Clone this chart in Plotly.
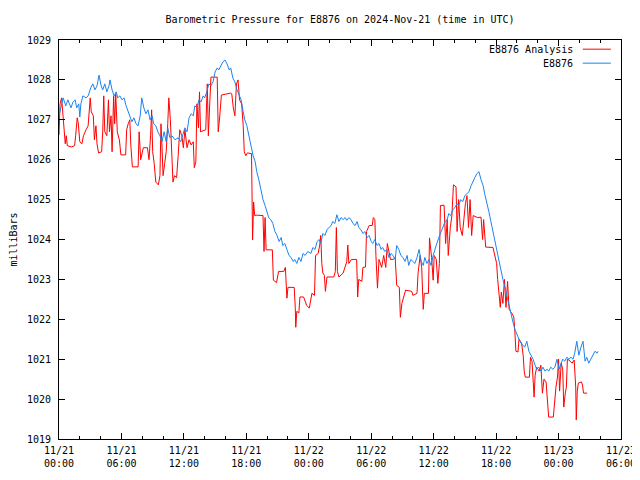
import pandas as pd
import plotly.graph_objects as go

# ---- data (hours after 2024-11-21 00:00 UTC, pressure in mb) ----
blue_hours = [0.0, 0.2, 0.4, 0.65, 0.85, 1.15, 1.35, 1.55, 1.7, 1.9, 2.0, 2.1, 2.3, 2.6, 2.8, 3.05, 3.25, 3.45, 3.65, 3.85,
              4.05, 4.2, 4.4, 4.6, 4.8, 4.9, 5.1, 5.3, 5.5, 5.65, 5.85, 6.05, 6.25, 6.45, 6.6, 6.8, 7.0, 7.2, 7.4, 7.6,
              7.8, 7.95, 8.15, 8.35, 8.55, 8.75, 8.95, 9.1, 9.3, 9.5, 9.7, 9.9, 10.1, 10.3, 10.45, 10.65, 10.85, 11.15, 11.45, 11.7,
              11.9, 12.1, 12.3, 12.5, 12.7, 12.9, 13.05, 13.25, 13.45, 13.65, 13.85, 14.0, 14.2, 14.4, 14.6, 14.8, 15.0, 15.2, 15.35, 15.55,
              15.75, 15.95, 16.15, 16.35, 16.5, 16.7, 16.9, 17.1, 17.3, 17.5, 17.7, 17.85, 18.05, 18.25, 18.45, 18.65, 18.85, 19.0, 19.2, 19.4,
              19.6, 19.8, 20.0, 20.15, 20.35, 20.55, 20.75, 20.95, 21.15, 21.35, 21.5, 21.7, 21.9, 22.1, 22.3, 22.5, 22.65, 22.85, 23.05, 23.25,
              23.45, 23.65, 23.9, 24.2, 24.4, 24.6, 24.8, 25.0, 25.15, 25.35, 25.55, 25.75, 25.95, 26.15, 26.3, 26.5, 26.7, 26.9, 27.1, 27.3,
              27.5, 27.65, 27.85, 28.05, 28.25, 28.45, 28.65, 28.8, 29.0, 29.2, 29.4, 29.6, 29.8, 30.0, 30.15, 30.35, 30.55, 30.75, 30.95, 31.1,
              31.3, 31.5, 31.7, 31.9, 32.1, 32.3, 32.45, 32.65, 32.85, 33.05, 33.25, 33.45, 33.6, 33.8, 34.0, 34.2, 34.4, 34.6, 34.8, 35.0,
              35.15, 35.35, 35.55, 35.75, 35.95, 36.1, 36.3, 36.5, 36.7, 36.9, 37.1, 37.3, 37.45, 37.65, 37.85, 38.05, 38.25, 38.4, 38.6, 38.8,
              39.0, 39.2, 39.4, 39.6, 39.75, 39.95, 40.15, 40.35, 40.55, 40.75, 40.9, 41.1, 41.3, 41.5, 41.7, 41.9, 42.05, 42.25, 42.45, 42.65,
              42.85, 43.05, 43.25, 43.4, 43.6, 43.8, 44.0, 44.2, 44.4, 44.6, 44.75, 44.95, 45.15, 45.35, 45.55, 45.75, 45.9, 46.1, 46.3, 46.5,
              46.7, 46.9, 47.05, 47.25, 47.45, 47.65, 47.85, 48.05, 48.25, 48.4, 48.6, 48.8, 49.0, 49.2, 49.4, 49.55, 49.75, 49.95, 50.15, 50.35,
              50.55, 50.7, 50.9, 51.1, 51.3, 51.5, 51.7, 51.8]
blue_values = [1027.1, 1027.3, 1027.55, 1027.35, 1027.5, 1027.3, 1027.45, 1027.5, 1027.3, 1027.4, 1027.07, 1027.4, 1027.6, 1027.55, 1027.6, 1027.8, 1027.9, 1027.75, 1027.85, 1028.12,
               1027.85, 1027.75, 1027.9, 1027.7, 1027.85, 1028.0, 1027.75, 1027.6, 1027.7, 1027.55, 1027.6, 1027.5, 1027.55, 1027.35, 1027.25, 1027.1, 1026.95, 1027.05, 1026.9, 1026.85,
               1027.1, 1027.55, 1027.3, 1027.15, 1027.25, 1027.0, 1027.1, 1026.9, 1026.85, 1026.7, 1026.6, 1026.45, 1026.7, 1026.45, 1026.8, 1026.55, 1026.6, 1026.5, 1026.55, 1026.45,
               1026.65, 1026.8, 1026.7, 1027.05, 1027.15, 1027.1, 1027.35, 1027.3, 1027.5, 1027.45, 1027.6, 1027.55, 1027.7, 1027.9, 1027.85, 1027.95, 1028.2, 1028.3, 1028.25, 1028.35,
               1028.45, 1028.5, 1028.4, 1028.25, 1028.3, 1028.05, 1027.95, 1027.75, 1027.6, 1027.5, 1027.2, 1027.0, 1026.85, 1026.6, 1026.3, 1026.1, 1025.95, 1025.7, 1025.5, 1025.25,
               1025.0, 1024.85, 1024.7, 1024.55, 1024.5, 1024.4, 1024.2, 1024.1, 1023.95, 1024.05, 1023.85, 1023.9, 1023.75, 1023.6, 1023.55, 1023.45, 1023.5, 1023.4, 1023.55, 1023.45,
               1023.65, 1023.6, 1023.7, 1023.65, 1023.8, 1023.75, 1023.95, 1024.0, 1023.9, 1024.15, 1024.1, 1024.25, 1024.3, 1024.35, 1024.45, 1024.4, 1024.62, 1024.45, 1024.55, 1024.5,
               1024.55, 1024.48, 1024.55, 1024.5, 1024.4, 1024.35, 1024.45, 1024.3, 1024.25, 1024.15, 1024.2, 1024.05, 1024.1, 1023.95, 1023.9, 1024.0, 1023.85, 1023.9, 1023.75, 1023.8,
               1023.7, 1023.75, 1023.55, 1023.65, 1023.6, 1023.5, 1023.85, 1023.75, 1023.6, 1023.55, 1023.45, 1023.6, 1023.35, 1023.5, 1023.45, 1023.4, 1023.55, 1023.75, 1023.45, 1023.35,
               1023.55, 1023.4, 1023.5, 1023.35, 1023.6, 1023.75, 1023.9, 1024.05, 1024.2, 1024.35, 1024.45, 1024.5, 1024.65, 1024.6, 1024.75, 1024.8, 1024.9, 1024.85, 1025.0, 1024.95,
               1025.1, 1025.15, 1025.2, 1025.35, 1025.45, 1025.55, 1025.65, 1025.7, 1025.5, 1025.35, 1025.15, 1024.95, 1024.7, 1024.45, 1024.2, 1023.95, 1023.75, 1023.45, 1023.2, 1023.0,
               1022.8, 1022.55, 1022.35, 1022.15, 1021.95, 1021.75, 1021.6, 1021.5, 1021.4, 1021.35, 1021.3, 1021.45, 1021.2, 1021.1, 1021.0, 1020.85, 1020.75, 1020.8, 1020.7, 1020.8,
               1020.7, 1020.75, 1020.7, 1020.8, 1020.75, 1020.8, 1021.0, 1020.75, 1020.9, 1021.0, 1020.95, 1021.05, 1021.0, 1021.05, 1021.0, 1021.15, 1021.45, 1021.1, 1021.3, 1021.45,
               1020.95, 1021.05, 1020.9, 1021.0, 1021.1, 1021.2, 1021.15, 1021.2]

red_hours = [0.0, 0.1, 0.25, 0.35, 0.45, 0.6, 0.7, 0.8, 1.2, 1.5, 1.6, 1.75, 1.85, 2.0, 2.2, 2.35, 2.6, 2.8, 3.0, 3.1,
             3.3, 3.4, 3.55, 3.65, 3.8, 4.1, 4.2, 4.3, 4.4, 4.6, 4.75, 4.85, 5.0, 5.1, 5.25, 5.35, 5.45, 5.6, 5.8, 5.95,
             6.4, 6.5, 6.65, 6.8, 6.9, 7.05, 7.6, 7.7, 7.85, 8.1, 8.5, 8.65, 8.8, 8.9, 9.0, 9.15, 9.3, 9.55, 9.7, 9.8,
             9.9, 10.0, 10.15, 10.3, 10.45, 10.55, 10.7, 10.8, 10.95, 11.1, 11.3, 11.45, 11.6, 11.8, 11.95, 12.1, 12.3, 12.5, 12.7, 12.9,
             13.0, 13.15, 13.25, 13.4, 13.5, 13.6, 13.8, 14.1, 14.25, 14.35, 14.5, 14.6, 15.2, 15.3, 15.45, 15.6, 16.5, 16.6, 16.75, 16.9,
             17.05, 17.2, 17.35, 17.55, 17.7, 17.8, 17.95, 18.1, 18.5, 18.6, 18.7, 18.8, 19.0, 19.6, 19.7, 19.8, 19.9, 20.5, 20.6, 20.9,
             21.1, 21.6, 21.75, 21.8, 21.9, 22.0, 22.6, 22.7, 22.75, 22.85, 23.05, 23.15, 23.5, 23.8, 24.05, 24.3, 24.55, 24.65, 24.9, 25.05,
             25.15, 25.25, 25.35, 25.5, 25.6, 25.75, 26.4, 26.55, 26.65, 26.75, 26.9, 27.3, 27.5, 27.65, 27.75, 27.85, 28.1, 28.6, 28.7, 28.8,
             29.1, 29.2, 29.45, 29.55, 29.8, 30.1, 30.2, 30.35, 30.45, 30.6, 30.75, 31.0, 31.2, 31.4, 31.55, 31.7, 31.85, 32.1, 32.3, 32.45,
             32.7, 32.8, 32.95, 33.3, 33.9, 34.0, 34.4, 34.5, 34.7, 34.85, 35.0, 35.1, 35.5, 35.6, 35.8, 35.95, 36.05, 36.25, 36.4, 36.55,
             36.65, 37.0, 37.15, 37.3, 37.4, 37.6, 37.75, 37.9, 38.15, 38.25, 38.4, 38.55, 38.75, 38.9, 39.05, 39.2, 39.35, 39.5, 39.65, 39.8,
             40.2, 40.55, 40.7, 40.8, 41.0, 41.7, 41.85, 42.05, 42.15, 42.3, 42.4, 42.5, 42.65, 42.8, 42.95, 43.1, 43.25, 43.5, 43.7, 43.8,
             43.9, 44.1, 44.2, 44.45, 44.6, 44.7, 44.8, 45.2, 45.3, 45.45, 45.55, 45.65, 45.75, 45.9, 46.15, 46.3, 46.45, 46.6, 46.8, 46.95,
             47.05, 47.5, 47.6, 47.75, 47.9, 48.0, 48.1, 48.25, 48.4, 48.5, 48.65, 48.75, 48.85, 49.0, 49.3, 49.5, 49.65, 49.7, 49.8, 49.9,
             50.2, 50.3, 50.4, 50.75]
red_values = [1026.62, 1027.4, 1027.55, 1027.2, 1026.9, 1026.4, 1026.6, 1026.35, 1026.32, 1026.35, 1026.6, 1027.05, 1026.92, 1026.45, 1026.4, 1026.6, 1026.75, 1026.85, 1027.55, 1027.2,
              1027.1, 1026.5, 1026.85, 1026.4, 1026.17, 1026.2, 1026.7, 1027.6, 1026.7, 1026.6, 1027.5, 1026.7, 1027.1, 1026.2, 1027.6, 1026.9, 1027.65, 1026.7, 1026.5, 1026.12,
              1026.12, 1026.75, 1026.9, 1027.0, 1026.37, 1025.82, 1025.82, 1026.7, 1026.0, 1026.3, 1026.3, 1026.0, 1026.6, 1027.25, 1026.2, 1025.9, 1025.44, 1025.37, 1025.6, 1026.9,
              1026.3, 1025.6, 1025.9, 1026.2, 1026.9, 1027.55, 1027.0, 1026.4, 1025.44, 1025.6, 1025.55, 1026.1, 1026.75, 1026.6, 1026.3, 1026.75, 1026.3, 1026.5, 1026.37, 1026.45,
              1025.8, 1025.95, 1027.4, 1026.8, 1027.7, 1026.7, 1026.72, 1026.75, 1027.9, 1026.6, 1027.5, 1028.07, 1028.07, 1026.7, 1027.1, 1027.62, 1027.67, 1027.65, 1027.3, 1027.1,
              1027.9, 1028.0, 1027.5, 1027.4, 1026.85, 1026.2, 1026.1, 1026.17, 1026.15, 1023.99, 1024.94, 1024.6, 1024.61, 1024.6, 1023.7, 1024.55, 1023.74, 1023.74, 1022.98, 1022.92,
              1023.2, 1023.2, 1023.3, 1022.85, 1022.53, 1022.8, 1022.8, 1022.3, 1021.8, 1022.2, 1022.16, 1022.56, 1022.56, 1022.35, 1022.28, 1022.65, 1022.6, 1023.6, 1023.65, 1023.86,
              1024.1, 1023.4, 1023.16, 1023.1, 1022.7, 1023.06, 1023.06, 1023.2, 1024.3, 1023.2, 1023.06, 1023.16, 1023.35, 1023.44, 1023.86, 1023.4, 1023.5, 1023.5, 1022.56, 1023.0,
              1022.95, 1023.3, 1023.31, 1024.2, 1024.35, 1024.35, 1024.55, 1024.5, 1023.6, 1022.78, 1023.5, 1023.3, 1023.6, 1023.3, 1023.9, 1023.7, 1023.5, 1023.5, 1023.55, 1022.85,
              1022.8, 1022.05, 1022.4, 1022.73, 1022.7, 1022.6, 1022.65, 1023.15, 1023.6, 1023.3, 1022.25, 1022.65, 1022.65, 1024.04, 1023.55, 1022.98, 1023.6, 1023.5, 1022.9, 1023.4,
              1024.85, 1024.86, 1023.9, 1024.5, 1023.6, 1024.3, 1024.6, 1025.37, 1025.32, 1024.2, 1025.0, 1024.3, 1024.1, 1024.5, 1024.9, 1025.1, 1024.3, 1025.0, 1024.1, 1024.6,
              1024.55, 1024.56, 1024.0, 1024.5, 1023.81, 1023.8, 1023.6, 1023.4, 1023.0, 1022.66, 1022.3, 1022.68, 1022.4, 1023.0, 1022.3, 1022.95, 1022.25, 1022.15, 1022.06, 1021.7,
              1021.2, 1021.18, 1021.5, 1021.4, 1021.1, 1020.7, 1020.55, 1020.55, 1021.05, 1020.95, 1020.3, 1020.05, 1020.6, 1020.8, 1020.7, 1020.85, 1020.15, 1020.5, 1020.43, 1019.9,
              1019.55, 1019.55, 1019.9, 1020.3, 1020.55, 1021.0, 1020.2, 1020.9, 1020.75, 1019.8, 1020.15, 1020.3, 1021.0, 1020.98, 1020.9, 1020.98, 1020.3, 1019.48, 1020.2, 1020.4,
              1020.43, 1020.35, 1020.15, 1020.15]

x_tick_hours = [0, 6, 12, 18, 24, 30, 36, 42, 48, 54]
x_tick_labels = ["11/21<br>00:00", "11/21<br>06:00", "11/21<br>12:00", "11/21<br>18:00",
                 "11/22<br>00:00", "11/22<br>06:00", "11/22<br>12:00", "11/22<br>18:00",
                 "11/23<br>00:00", "11/23<br>06:00"]
y_ticks = [1019, 1020, 1021, 1022, 1023, 1024, 1025, 1026, 1027, 1028, 1029]
series_names = ["E8876 Analysis", "E8876"]
series_colors = ["#ff0000", "#1a84f0"]

base = pd.Timestamp("2024-11-21 00:00")
to_t = lambda hrs: [base + pd.Timedelta(hours=h) for h in hrs]

FONT = "DejaVu Sans Mono"
FS = 10

fig = go.Figure()
fig.add_trace(go.Scatter(x=to_t(red_hours), y=red_values, mode="lines", name=series_names[0],
                         line=dict(color=series_colors[0], width=1), showlegend=False))
fig.add_trace(go.Scatter(x=to_t(blue_hours), y=blue_values, mode="lines", name=series_names[1],
                         line=dict(color=series_colors[1], width=1), showlegend=False))

# gnuplot-style key: right-aligned text followed by a line sample (top-right, inside frame)
for i, (nm, col) in enumerate(zip(series_names, series_colors)):
    yk = 0.977 - i * 0.035
    fig.add_annotation(xref="paper", yref="paper", x=0.918, y=yk, text=nm, showarrow=False,
                       xanchor="right", yanchor="middle", font=dict(family=FONT, size=FS, color="black"))
    fig.add_shape(type="line", xref="paper", yref="paper", x0=0.932, x1=0.982, y0=yk, y1=yk,
                  line=dict(color=col, width=1))

# the page body adds an 8px offset; the figure is sized so the frame lands where the reference has it
fig.update_layout(
    width=632, height=472,
    margin=dict(l=51, r=19, t=32, b=41, autoexpand=False),
    paper_bgcolor="white", plot_bgcolor="white",
    font=dict(family=FONT, size=FS, color="black"),
    title=dict(text="Barometric Pressure for E8876 on 2024-Nov-21 (time in UTC)", x=0.5, xref="paper",
               xanchor="center", yref="container", y=1 - 11 / 472, yanchor="middle",
               font=dict(family=FONT, size=FS, color="black")),
)
fig.update_xaxes(
    type="date", range=[base, base + pd.Timedelta(hours=54)],
    tickvals=to_t(x_tick_hours), ticktext=x_tick_labels,
    ticks="inside", ticklen=6, tickcolor="black", tickwidth=1,
    showline=True, linecolor="black", linewidth=1, mirror="allticks",
    showgrid=False, zeroline=False, automargin=False,
    minor=dict(dtick=2 * 3600 * 1000, tick0=base, ticks="inside", ticklen=3, tickcolor="black", showgrid=False),
    tickfont=dict(family=FONT, size=FS, color="black"), ticklabelstandoff=2,
)
fig.update_yaxes(
    range=[1019, 1029], tickvals=y_ticks, ticktext=[str(v) for v in y_ticks],
    ticks="inside", ticklen=6, tickcolor="black", tickwidth=1,
    showline=True, linecolor="black", linewidth=1, mirror="allticks",
    showgrid=False, zeroline=False, automargin=False,
    title=dict(text="milliBars", font=dict(family=FONT, size=FS, color="black"), standoff=8),
    tickfont=dict(family=FONT, size=FS, color="black"), ticklabelstandoff=5,
)

fig.write_html("out.html")
